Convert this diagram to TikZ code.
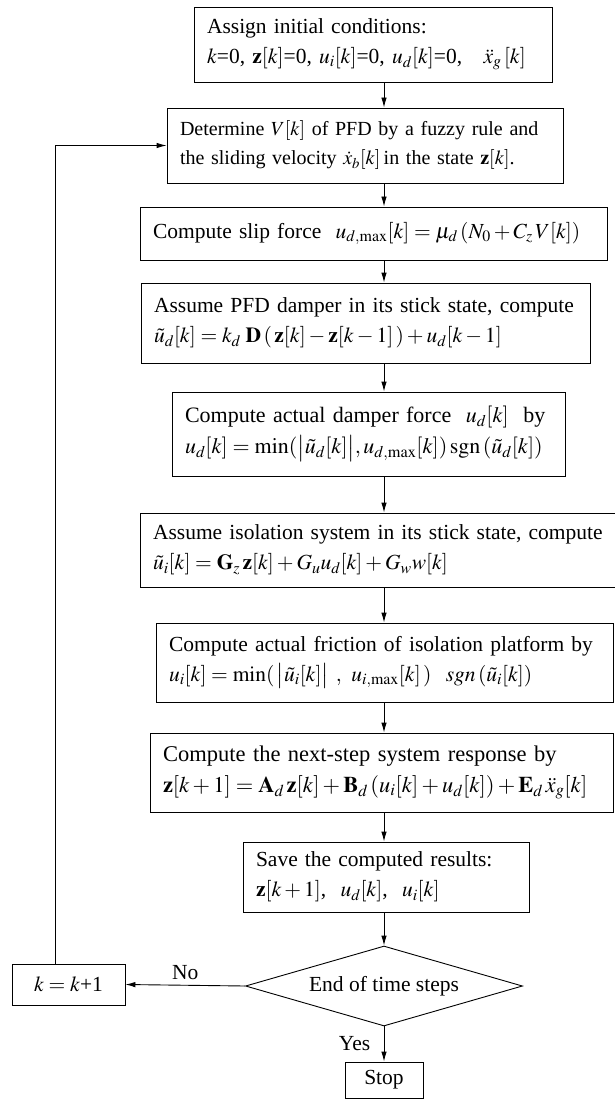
\documentclass[tikz,border=0pt]{standalone}
\usepackage{amsmath}
\usepackage{mathptmx}
\usepackage[no-math]{fontspec}
\setmainfont{Liberation Serif}
\usetikzlibrary{arrows.meta,positioning,shapes.geometric}

\begin{document}
\begin{tikzpicture}[x=1pt,y=-1pt,>={Latex[length=10pt,width=5.5pt]},
  every node/.style={font=\fontsize{21.5}{30}\selectfont},
  proc/.style={draw,line width=0.9pt,inner xsep=13pt,inner ysep=0pt,align=left},
  flow/.style={->,line width=0.9pt}]
  \useasboundingbox (0,0) rectangle (615,1099);
  \coordinate (spine) at (384,0);
  \coordinate (loopx) at (55,0);
  \node[proc,text width=332pt,minimum height=75pt] (assign) at (373,44.5)
    {Assign initial conditions:\\
     $k$=0, $\mathbf{z}[k]$=0, $u_i[k]$=0, $u_d[k]$=0,\quad $\ddot{x}_g\,[k]$};
  \node[proc,text width=370pt,minimum height=75pt,font=\fontsize{20}{29}\selectfont] (determ) at (365,145.5)
    {Determine $V[k]$ of PFD by a fuzzy rule and\\
     the sliding velocity $\dot{x}_b[k]$\,in the state $\mathbf{z}[k]$.};
  \node[proc,text width=441pt,minimum height=53pt] (slip) at (373.5,233.5)
    {Compute slip force \ $u_{d,\max}[k]=\mu_d\,(N_0+C_z\,V[k])$};
  \node[proc,text width=423pt,minimum height=80pt] (stickd) at (365.5,323)
    {Assume PFD damper in its stick state, compute\\
     $\tilde{u}_d[k]=k_d\;\mathbf{D}\,(\,\mathbf{z}[k]-\mathbf{z}[k-1]\,)+u_d[k-1]$};
  \node[proc,text width=367pt,minimum height=84pt,font=\fontsize{22}{31}\selectfont] (damper) at (368.5,434)
    {Compute actual damper force \ $u_d[k]$ \ by\\
     $u_d[k]=\min(\bigl|\tilde{u}_d[k]\bigr|,u_{d,\max}[k])\,\mathrm{sgn}\,(\tilde{u}_d[k])$};
  \node[proc,text width=459pt,minimum height=74pt] (sticki) at (382.5,550)
    {Assume isolation system in its stick state, compute\\
     $\tilde{u}_i[k]=\mathbf{G}_z\,\mathbf{z}[k]+G_u u_d[k]+G_w w[k]$};
  \node[proc,text width=431pt,minimum height=79pt] (fric) at (384.5,662.5)
    {Compute actual friction of isolation platform by\\
     $u_i[k]=\min(\,\bigl|\tilde{u}_i[k]\bigr|\ ,\ u_{i,\max}[k]\,)\ \ sgn\,(\tilde{u}_i[k])$};
  \node[proc,text width=437pt,minimum height=79pt,font=\fontsize{22.5}{31}\selectfont] (next) at (381.5,772.5)
    {Compute the next-step system response by\\
     $\mathbf{z}[k+1]=\mathbf{A}_d\,\mathbf{z}[k]+\mathbf{B}_d\,(u_i[k]+u_d[k])+\mathbf{E}_d\,\ddot{x}_g[k]$};
  \node[proc,text width=260pt,minimum height=70pt] (save) at (386,877)
    {Save the computed results:\\
     $\mathbf{z}[k+1]$,\ \ $u_d[k]$,\ \ $u_i[k]$};
  \node[draw,diamond,aspect=3.46,line width=0.9pt,inner sep=0pt,minimum width=277pt,minimum height=80pt] (decide) at (384,986)
    {End of time steps};
  \node[draw,line width=0.9pt,minimum width=113pt,minimum height=41pt] (kinc) at (68.5,984.5)
    {$k=k$+1};
  \node[draw,line width=0.9pt,minimum width=78pt,minimum height=36pt] (stop) at (384,1080)
    {Stop};
  \draw[flow] (assign.south -| spine) -- (determ.north -| spine);
  \draw[flow] (determ.south -| spine) -- (slip.north -| spine);
  \draw[flow] (slip.south -| spine) -- (stickd.north -| spine);
  \draw[flow] (stickd.south -| spine) -- (damper.north -| spine);
  \draw[flow] (damper.south -| spine) -- (sticki.north -| spine);
  \draw[flow] (sticki.south -| spine) -- (fric.north -| spine);
  \draw[flow] (fric.south -| spine) -- (next.north -| spine);
  \draw[flow] (next.south -| spine) -- (save.north -| spine);
  \draw[flow] (save.south -| spine) -- (decide.north);
  \draw[flow] (decide.south) -- node[left=10pt] {Yes} (stop.north);
  \draw[flow] (decide.west) -- node[above=2pt] {No} (kinc.east);
  \draw[flow] (kinc.north -| loopx) |- (determ.west);
\end{tikzpicture}
\end{document}
